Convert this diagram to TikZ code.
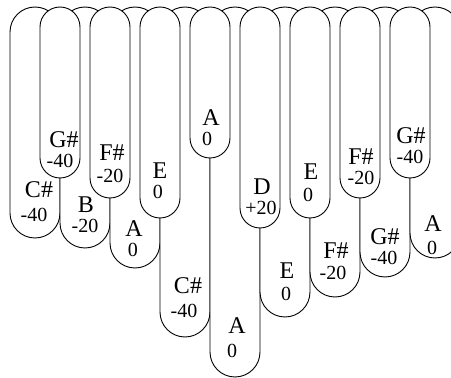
\documentclass[tikz,border=0pt]{standalone}
\usepackage{fontspec}
\setmainfont{Liberation Serif}
\newcommand\tineshape[3]{\path[tine, rounded corners=#2pt] ({#1-#2},{378-7}) rectangle ({#1+#2},{378-#3});}
\newcommand\tinelabel[7]{%
  \node[notelbl] (#1n) at (#2,{378-#3}) {#4};
  \node[centslbl] (#1c) at (#5,{378-#6}) {#7};}
\begin{document}
\begin{tikzpicture}[x=1pt,y=1pt,
  tine/.style={draw=black, fill=white, line width=0.9pt},
  notelbl/.style={anchor=base, inner sep=0pt, text height=0.64em, text depth=0pt, font=\fontsize{24}{24}\selectfont},
  centslbl/.style={anchor=base, inner sep=0pt, text height=0.64em, text depth=0pt, font=\fontsize{20}{20}\selectfont}]
\useasboundingbox (0,0) rectangle (451,378);
\clip (0,0) rectangle (451,378);
% back tines
\tineshape{35}{25}{238}
\tineshape{85}{25}{248}
\tineshape{135}{25}{268}
\tineshape{185}{25}{337}
\tineshape{235}{25}{377}
\tineshape{285}{25}{317}
\tineshape{335}{25}{297}
\tineshape{385}{25}{277}
\tineshape{435}{25}{258}
% front tines
\tineshape{60}{20}{178}
\tineshape{110}{20}{198}
\tineshape{160}{20}{218}
\tineshape{210}{20}{158}
\tineshape{260}{20}{228}
\tineshape{310}{20}{218}
\tineshape{360}{20}{198}
\tineshape{410}{20}{178}
% labels
\tinelabel{t1}{39}{198}{C\#}{34}{222}{-40}
\tinelabel{t2}{64}{147.5}{G\#}{60}{167.5}{-40}
\tinelabel{t3}{86}{212.5}{B}{85}{232.5}{-20}
\tinelabel{t4}{112}{161}{F\#}{110}{183}{-20}
\tinelabel{t5}{134}{237}{A}{133}{257}{0}
\tinelabel{t6}{160}{179}{E}{158}{198.5}{0}
\tinelabel{t7}{188}{294}{C\#}{184}{318}{-40}
\tinelabel{t8}{211}{126}{A}{207}{146}{0}
\tinelabel{t9}{237}{334}{A}{232}{358}{0}
\tinelabel{t10}{262}{194.5}{D}{261}{214.5}{+20}
\tinelabel{t11}{287}{279}{E}{286}{301}{0}
\tinelabel{t12}{311}{180}{E}{308}{202}{0}
\tinelabel{t13}{336}{259}{F\#}{333}{280}{-20}
\tinelabel{t14}{361}{165}{F\#}{361}{185}{-20}
\tinelabel{t15}{385}{244.5}{G\#}{384}{264.5}{-40}
\tinelabel{t16}{411}{143.5}{G\#}{410}{163.5}{-40}
\tinelabel{t17}{433}{232}{A}{432}{255}{0}
\end{tikzpicture}
\end{document}
